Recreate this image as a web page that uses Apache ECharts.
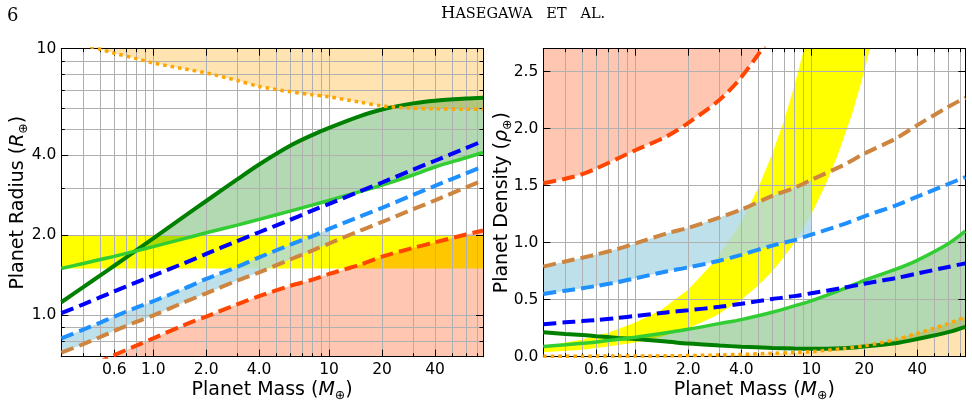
<!DOCTYPE html>
<html>
<head>
<meta charset="utf-8">
<script src="https://cdn.jsdelivr.net/npm/echarts@6.0.0/dist/echarts.min.js"></script>
<style>
  html, body { margin: 0; padding: 0; background: #fff; }
  #chart { width: 972px; height: 404px; }
</style>
</head>
<body>
<div id="chart"></div>
<script>
// planet mass (Earth masses) sampled for every model curve
const masses = [0.3, 0.4, 0.5, 0.6, 0.8, 1, 1.5, 2, 3, 4, 6, 8, 10, 15, 20, 30, 40, 60, 75];

// left panel: radius (Earth radii)
const radiusOrangeRed = [0.58, 0.63, 0.67, 0.71, 0.77, 0.82, 0.92, 0.99, 1.10, 1.18, 1.29, 1.36, 1.43, 1.55, 1.66, 1.79, 1.88, 2.01, 2.08];
const radiusPeru = [0.725, 0.78, 0.83, 0.875, 0.945, 1.00, 1.12, 1.21, 1.35, 1.45, 1.62, 1.75, 1.86, 2.08, 2.24, 2.50, 2.70, 3.02, 3.21];
const radiusDodger = [0.82, 0.885, 0.94, 0.99, 1.07, 1.13, 1.26, 1.37, 1.52, 1.65, 1.84, 1.98, 2.11, 2.35, 2.53, 2.83, 3.06, 3.41, 3.62];
const radiusBlue = [1.02, 1.10, 1.17, 1.23, 1.33, 1.41, 1.57, 1.70, 1.90, 2.05, 2.28, 2.47, 2.62, 2.92, 3.15, 3.52, 3.80, 4.24, 4.51];
const radiusLime = [1.50, 1.565, 1.62, 1.665, 1.745, 1.81, 1.94, 2.04, 2.18, 2.29, 2.46, 2.59, 2.70, 2.91, 3.08, 3.36, 3.60, 3.90, 4.08];
const radiusGreen = [1.12, 1.276, 1.413, 1.535, 1.754, 1.945, 2.35, 2.685, 3.236, 3.681, 4.325, 4.742, 5.047, 5.585, 5.916, 6.237, 6.383, 6.501, 6.546];
const radiusOrange = [10.8, 10.35, 9.95, 9.62, 9.18, 8.84, 8.4, 8.11, 7.6, 7.22, 6.9, 6.72, 6.6, 6.3, 6.1, 5.98, 5.95, 5.93, 5.93];

// right panel: bulk density (Earth densities)
const densityOrangeRed = [1.52, 1.56, 1.60, 1.65, 1.74, 1.81, 1.93, 2.05, 2.25, 2.45, 2.83, 3.16, null, null, null, null, null, null, null];
const densityPeru = [0.79, 0.835, 0.868, 0.896, 0.946, 0.993, 1.08, 1.13, 1.22, 1.29, 1.41, 1.48, 1.55, 1.675, 1.78, 1.91, 2.03, 2.19, 2.27];
const densityDodger = [0.55, 0.579, 0.60, 0.62, 0.654, 0.687, 0.747, 0.783, 0.841, 0.893, 0.974, 1.022, 1.07, 1.158, 1.231, 1.324, 1.403, 1.514, 1.574];
const densityBlue = [0.285, 0.301, 0.312, 0.322, 0.34, 0.357, 0.388, 0.407, 0.437, 0.464, 0.506, 0.531, 0.556, 0.602, 0.64, 0.688, 0.729, 0.787, 0.818];
const densityLime = [0.09, 0.104, 0.117, 0.128, 0.152, 0.17, 0.21, 0.24, 0.29, 0.325, 0.39, 0.445, 0.49, 0.59, 0.67, 0.765, 0.845, 0.99, 1.1];
const densityGreen = [0.215, 0.20, 0.19, 0.18, 0.165, 0.155, 0.133, 0.115, 0.098, 0.088, 0.077, 0.072, 0.070, 0.075, 0.09, 0.118, 0.155, 0.215, 0.262];
const densityOrange = [0.004, 0.004, 0.005, 0.005, 0.006, 0.006, 0.008, 0.01, 0.015, 0.02, 0.03, 0.037, 0.044, 0.07, 0.095, 0.15, 0.205, 0.29, 0.35];

// yellow band (radius gap) in both panels
const gapMassRange = [0.3, 75];
const gapRadiusLow = [1.5, 1.5];
const gapRadiusHigh = [2.0, 2.0];
const gapMasses = [0.3, 0.5, 0.7, 1, 1.4, 2, 2.8, 4, 5, 6, 7, 8, 9, 10, 12, 14, 17, 20, 24];
const gapDensityHigh = [0.09, 0.15, 0.21, 0.30, 0.41, 0.59, 0.83, 1.18, 1.48, 1.78, 2.07, 2.37, 2.67, 2.96, null, null, null, null, null];
const gapDensityLow = [0.04, 0.06, 0.09, 0.125, 0.175, 0.25, 0.35, 0.50, 0.625, 0.75, 0.875, 1.0, 1.125, 1.25, 1.5, 1.75, 2.12, 2.5, 3.0];

// ticks
const massMajor = [0.6, 1, 2, 4, 10, 20, 40];
const massMinor = [0.4, 0.5, 0.7, 0.8, 0.9, 3, 5, 6, 7, 8, 9, 30, 50, 60, 70];
const radiusMajor = [1, 2, 4, 10];
const radiusMinor = [0.8, 0.9, 3, 5, 6, 7, 8, 9];
const densityMajor = [0, 0.5, 1.0, 1.5, 2.0, 2.5];

const FONT = '"DejaVu Sans", sans-serif';
const SERIF = '"DejaVu Serif", serif';
const fmt = v => (v >= 10 ? String(Math.round(v)) : v.toFixed(1));

function axisName(text) {
  return {
    name: text,
    nameLocation: 'middle',
    nameMoveOverlap: false,
    nameTextStyle: {
      color: '#000', fontFamily: FONT, fontSize: 19,
      rich: {
        n: { color: '#000', fontFamily: FONT, fontSize: 19, lineHeight: 25 },
        i: { color: '#000', fontFamily: FONT, fontSize: 19, fontStyle: 'italic', lineHeight: 25 },
        s: { color: '#000', fontFamily: FONT, fontSize: 12.5, verticalAlign: 'bottom', lineHeight: 25 }
      }
    }
  };
}

// one axis per (side, major/minor); the first one carries labels and name
function makeAxes(gridIndex, scale, sides, majors, minors, extra) {
  const out = [];
  sides.forEach((pos, s) => {
    [majors, minors].forEach((vals, k) => {
      if (!vals) return;
      const first = s === 0 && k === 0;
      out.push(Object.assign({
        gridIndex: gridIndex, position: pos, z: 2,
        axisLine: { show: true, onZero: false, lineStyle: { color: '#000', width: 1 } },
        axisTick: { show: true, inside: true, length: k === 0 ? 7 : 3.5, customValues: vals,
                    lineStyle: { color: '#000', width: 1 } },
        axisLabel: first
          ? { show: true, customValues: vals, formatter: fmt, color: '#000', fontFamily: FONT, fontSize: 15.5, margin: 5 }
          : { show: false },
        splitLine: { show: s === 0, lineStyle: { color: '#b0b0b0', width: 1 } },
        axisPointer: { show: false }
      }, scale, first ? extra : {}));
    });
  });
  return out;
}

const massScale = { type: 'log', logBase: 10, min: 0.3, max: 75 };
const xAxes = [].concat(
  makeAxes(0, massScale, ['bottom', 'top'], massMajor, massMinor,
    Object.assign(axisName('{n|Planet Mass (}{i|M}{s|⊕}{n|)}'), { nameGap: 21 })),
  makeAxes(1, massScale, ['bottom', 'top'], massMajor, massMinor,
    Object.assign(axisName('{n|Planet Mass (}{i|M}{s|⊕}{n|)}'), { nameGap: 21 }))
);
const yAxes = [].concat(
  makeAxes(0, { type: 'log', logBase: 10, min: 0.7, max: 10 }, ['left', 'right'], radiusMajor, radiusMinor,
    Object.assign(axisName('{n|Planet Radius (}{i|R}{s|⊕}{n|)}'), { nameGap: 31 })),
  makeAxes(1, { type: 'value', min: 0, max: 2.7 }, ['left', 'right'], densityMajor, null,
    Object.assign(axisName('{n|Planet Density (}{i|ρ}{s|⊕}{n|)}'), { nameGap: 29 }))
);
const AX = [0, 4]; // main x axis index per grid
const AY = [0, 4]; // main y axis index per grid

function pairs(xs, ys) {
  return xs.map((x, i) => [x, ys[i]]);
}

function line(g, ys, color, width, dash) {
  return {
    type: 'line', xAxisIndex: AX[g], yAxisIndex: AY[g], z: 3, silent: true,
    symbol: 'none', showSymbol: false, clip: true, connectNulls: false, smooth: 0.3,
    lineStyle: { color: color, width: width, type: dash || 'solid', cap: 'butt' },
    data: pairs(masses, ys)
  };
}

// filled region between two boundaries ('top'/'bottom' means the plot edge)
function band(g, xs, upper, lower, color, opts) {
  opts = opts || {};
  return {
    type: 'custom', xAxisIndex: AX[g], yAxisIndex: AY[g], z: 1, silent: true,
    data: [[1, 1]],
    renderItem: function (params, api) {
      const cs = params.coordSys;
      const edge = b => (b === 'top' ? cs.y : cs.y + cs.height);
      const pt = (b, i) => {
        const x = api.coord([xs[i], 1])[0];
        if (typeof b === 'string') return [x, edge(b)];
        if (b[i] == null) return null;
        return api.coord([xs[i], b[i]]);
      };
      const top = [], bot = [];
      xs.forEach((m, i) => {
        if (opts.maxX && m > opts.maxX) return;
        const pu = pt(upper, i), pl = pt(lower, i);
        if (opts.where) {
          if (!pu || !pl) return;
          top.push([pu[0], Math.min(pu[1], pl[1])]);
          bot.push(pl);
        } else {
          if (pu) top.push(pu);
          if (pl) bot.push(pl);
        }
      });
      return {
        type: 'polygon',
        shape: { points: top.concat(bot.reverse()) },
        style: { fill: color, stroke: null },
        clipPath: { type: 'rect', shape: { x: cs.x, y: cs.y, width: cs.width, height: cs.height } }
      };
    }
  };
}

const RED_FILL = 'rgba(255,69,0,0.3)';
const ORANGE_FILL = 'rgba(255,165,0,0.3)';
const GREEN_FILL = 'rgba(0,128,0,0.3)';
const BLUE_FILL = 'rgba(173,216,230,0.8)';
const DASH = [13, 6];
const DOT = [3.5, 4];

const series = [
  // left panel
  band(0, gapMassRange, gapRadiusHigh, gapRadiusLow, '#ffff00'),
  band(0, masses, radiusOrangeRed, 'bottom', RED_FILL),
  band(0, masses, 'top', radiusOrange, ORANGE_FILL),
  band(0, masses, radiusGreen, radiusLime, GREEN_FILL, { where: true }),
  band(0, masses, radiusDodger, radiusPeru, BLUE_FILL, { maxX: 10 }),
  line(0, radiusGreen, '#008000', 4),
  line(0, radiusLime, '#32cd32', 3.5),
  line(0, radiusBlue, '#0000ff', 4, DASH),
  line(0, radiusDodger, '#1e90ff', 4, DASH),
  line(0, radiusPeru, '#cd853f', 4, DASH),
  line(0, radiusOrangeRed, '#ff4500', 4, DASH),
  line(0, radiusOrange, '#ffa500', 3.5, DOT),
  // right panel
  band(1, gapMasses, gapDensityHigh, gapDensityLow, '#ffff00'),
  band(1, masses, 'top', densityOrangeRed, RED_FILL),
  band(1, masses, densityOrange, 'bottom', ORANGE_FILL),
  band(1, masses, densityLime, densityGreen, GREEN_FILL, { where: true }),
  band(1, masses, densityPeru, densityDodger, BLUE_FILL, { maxX: 10 }),
  line(1, densityGreen, '#008000', 4),
  line(1, densityLime, '#32cd32', 3.5),
  line(1, densityBlue, '#0000ff', 4, DASH),
  line(1, densityDodger, '#1e90ff', 4, DASH),
  line(1, densityPeru, '#cd853f', 4, DASH),
  line(1, densityOrangeRed, '#ff4500', 4, DASH),
  line(1, densityOrange, '#ffa500', 3.5, DOT)
];

const chart = echarts.init(document.getElementById('chart'), null, { renderer: 'canvas' });
chart.setOption({
  animation: false,
  backgroundColor: '#fff',
  textStyle: { fontFamily: FONT },
  grid: [
    { left: 61.3, top: 48.7, width: 421.7, height: 308, containLabel: false, outerBoundsMode: 'none' },
    { left: 543.3, top: 48.7, width: 422, height: 308, containLabel: false, outerBoundsMode: 'none' }
  ],
  xAxis: xAxes,
  yAxis: yAxes,
  series: series,
  graphic: [
    { type: 'text', left: 7, top: 7, silent: true,
      style: { text: '6', font: '18px ' + SERIF, fill: '#000' } },
    { type: 'text', left: 441, top: 5, silent: true,
      style: {
        text: '{a|H}{b|ASEGAWA   ET   AL.}', fill: '#000',
        rich: {
          a: { fontFamily: SERIF, fontSize: 16.5, fill: '#000', verticalAlign: 'bottom', lineHeight: 20 },
          b: { fontFamily: SERIF, fontSize: 14.5, fill: '#000', verticalAlign: 'bottom', lineHeight: 20 }
        }
      } }
  ]
});
</script>
</body>
</html>
